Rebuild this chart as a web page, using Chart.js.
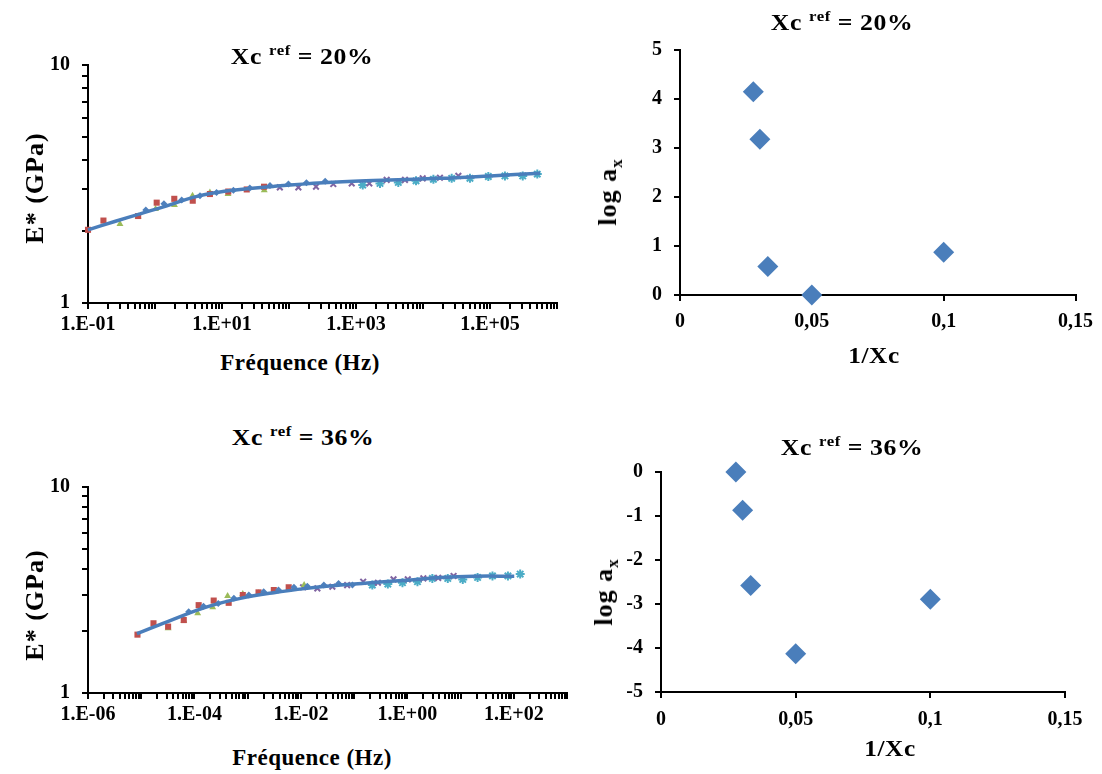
<!DOCTYPE html>
<html>
<head>
<meta charset="utf-8">
<script src="https://cdn.jsdelivr.net/npm/chart.js@4.4.0/dist/chart.umd.min.js"></script>
<style>
  body { margin: 0; background: #fff; width: 1102px; height: 774px; position: relative; overflow: hidden;
         font-family: "Liberation Serif", "Times New Roman", serif; font-weight: bold; color: #000; }
  canvas { position: absolute; }
  .lbl { position: absolute; white-space: nowrap; transform: translate(-50%, -50%); font-size: 23px; letter-spacing: 0.5px; line-height: 1; }
  .ttl { transform: translate(-50%, -50%) scaleX(1.12); }
  .rot { transform: translate(-50%, -50%) rotate(-90deg); font-size: 26px; letter-spacing: 1px; }
  .sm { transform: translate(-50%, -50%) scaleX(1.1); }
  sup { font-size: 15px; vertical-align: baseline; position: relative; top: -9px; }
  sub { font-size: 17px; vertical-align: baseline; position: relative; top: 6px; }
</style>
</head>
<body>

<canvas id="cA" width="570" height="299" style="left:0;top:41px"></canvas>
<canvas id="cB" width="522" height="334" style="left:580px;top:26px"></canvas>
<canvas id="cC" width="580" height="277" style="left:0;top:463px"></canvas>
<canvas id="cD" width="532" height="302" style="left:570px;top:448px"></canvas>

<div class="lbl ttl" style="left:302px;top:56px">Xc <sup>ref</sup> = 20%</div>
<div class="lbl ttl" style="left:842px;top:22px">Xc <sup>ref</sup> = 20%</div>
<div class="lbl ttl" style="left:303px;top:437px">Xc <sup>ref</sup> = 36%</div>
<div class="lbl ttl" style="left:852px;top:447px">Xc <sup>ref</sup> = 36%</div>

<div class="lbl rot" style="left:35px;top:188px">E* (GPa)</div>
<div class="lbl rot" style="left:35px;top:605px">E* (GPa)</div>
<div class="lbl" style="left:300px;top:362px">Fréquence (Hz)</div>
<div class="lbl" style="left:312px;top:757px">Fréquence (Hz)</div>

<div class="lbl rot" style="left:608px;top:192px">log a<sub>x</sub></div>
<div class="lbl rot" style="left:604px;top:592px">log a<sub>x</sub></div>
<div class="lbl sm" style="left:874px;top:355px">1/Xc</div>
<div class="lbl sm" style="left:890px;top:748px">1/Xc</div>

<script>
// -------------------------
// Données : Xc ref = 20 %
// -------------------------
const fitA_f = [0.1, 0.25, 0.6, 1.5, 3.7, 7.4, 18.6, 58, 325, 1810, 17900, 100000, 560000];
const fitA_E = [2.03, 2.20, 2.37, 2.56, 2.78, 2.90, 3.00, 3.09, 3.20, 3.27, 3.34, 3.42, 3.51];

const blueA_f = [0.73, 1.36, 2.5, 4.7, 8.3, 14.8, 26, 52, 98, 182, 347];
const blueA_E = [2.46, 2.61, 2.71, 2.82, 2.91, 2.98, 3.04, 3.12, 3.16, 3.20, 3.25];
const redA_f = [0.1, 0.17, 0.56, 1.06, 1.94, 3.66, 6.6, 12.4, 23.4, 42.4];
const redA_E = [2.03, 2.22, 2.32, 2.64, 2.74, 2.69, 2.87, 2.94, 3.00, 3.08];
const greenA_f = [0.30, 0.56, 1.02, 1.95, 3.63, 6.6, 12.3, 42.7];
const greenA_E = [2.15, 2.31, 2.48, 2.58, 2.82, 2.91, 2.87, 2.98];
const purpleA_f = [73, 138, 253, 458, 863, 1580, 2870, 5380, 9900, 17900, 33700];
const purpleA_E = [3.06, 3.06, 3.08, 3.16, 3.18, 3.18, 3.29, 3.29, 3.34, 3.36, 3.42];
const cyanA_f = [1260, 2280, 4280, 7870, 14300, 26800, 50200, 94400, 167000, 308000, 508000];
const cyanA_E = [3.13, 3.18, 3.21, 3.26, 3.31, 3.34, 3.34, 3.40, 3.42, 3.42, 3.48];

// -------------------------
// Données : Xc ref = 36 %
// -------------------------
const fitC_f = [8.3e-6, 4.0e-5, 1.72e-4, 7.3e-4, 3.1e-3, 1.31e-2, 5.6e-2, 0.236, 1.0, 4.26, 18, 102];
const fitC_E = [1.94, 2.28, 2.62, 2.88, 3.07, 3.22, 3.34, 3.44, 3.53, 3.64, 3.69, 3.69];

const blueC_f = [7.8e-5, 1.48e-4, 2.8e-4, 5.5e-4, 1.05e-3, 2.0e-3, 3.8e-3, 7.4e-3, 1.32e-2, 2.7e-2, 5.1e-2, 9.3e-2];
const blueC_E = [2.48, 2.64, 2.72, 2.88, 2.99, 3.10, 3.16, 3.26, 3.30, 3.34, 3.40, 3.34];
const redC_f = [8.5e-6, 1.7e-5, 3.2e-5, 6.3e-5, 1.2e-4, 2.3e-4, 4.4e-4, 8.1e-4, 1.6e-3, 3.1e-3, 5.9e-3];
const redC_E = [1.92, 2.18, 2.10, 2.26, 2.67, 2.81, 2.74, 2.99, 3.08, 3.16, 3.26];
const greenC_f = [3.2e-5, 6.3e-5, 1.15e-4, 2.2e-4, 4.2e-4, 8.1e-4, 1.6e-3, 5.9e-3, 1.15e-2];
const greenC_E = [2.06, 2.24, 2.44, 2.61, 2.96, 3.02, 3.05, 3.16, 3.34];
const purpleC_f = [1.1e-2, 2.04e-2, 3.9e-2, 7.4e-2, 0.148, 0.28, 0.55, 1.02, 2.0, 3.8, 7.4];
const purpleC_E = [3.26, 3.22, 3.28, 3.34, 3.47, 3.43, 3.56, 3.56, 3.60, 3.62, 3.70];
const cyanC_f = [0.22, 0.43, 0.81, 1.55, 2.95, 5.75, 11, 20.9, 39.8, 77.6, 132];
const cyanC_E = [3.34, 3.38, 3.43, 3.47, 3.60, 3.60, 3.56, 3.64, 3.70, 3.70, 3.78];

// facteurs de translation
const invXc = [0.0278, 0.0303, 0.0333, 0.05, 0.1];
const logA_20 = [4.15, 3.18, 0.58, 0, 0.87];
const logA_36 = [0, -0.87, -2.58, -4.13, -2.89];

// étiquettes des axes log
const freqLabelsA = [0.1, 10, 1000, 100000];
const freqLabelsC = [1e-6, 1e-4, 1e-2, 1, 100];
const modLabels = [1, 10];
// -------------------------

Chart.defaults.font.family = "'Liberation Serif', 'Times New Roman', serif";
Chart.defaults.font.weight = 'bold';
Chart.defaults.font.size = 20;
Chart.defaults.color = '#000';
Chart.defaults.animation = false;

const pts = (xs, ys) => xs.map((x, i) => ({ x: x, y: ys[i] }));

// 1.E-01, 1.E+03 ...
function expLabel(v) {
  const e = Math.round(Math.log10(v));
  return '1.E' + (e < 0 ? '-' : '+') + String(Math.abs(e)).padStart(2, '0');
}
function hasLabel(list, v) {
  return list.some(l => Math.abs(Math.log10(v / l)) < 1e-6);
}
// graduations 1..9 x 10^e
function logTicks(e0, e1) {
  const t = [];
  for (let e = e0; e < e1; e++) for (let m = 1; m < 10; m++) t.push({ value: m * Math.pow(10, e) });
  t.push({ value: Math.pow(10, e1) });
  return t;
}

const axisGrid = { display: true, drawOnChartArea: false, drawTicks: true, tickLength: 6, color: '#000', lineWidth: 2 };
const axisBorder = { display: true, color: '#000', width: 2 };

function markers(xs, ys, style, color, r) {
  return {
    data: pts(xs, ys), pointStyle: style, pointRadius: r, pointHoverRadius: r,
    backgroundColor: color, borderColor: color, borderWidth: style === 'crossRot' || style === 'star' ? 2 : 0,
    showLine: false, clip: false, order: 1
  };
}
function fitLine(xs, ys) {
  return {
    data: pts(xs, ys), showLine: true, borderColor: '#4a7ebb', borderWidth: 3.5,
    pointRadius: 0, tension: 0.4, clip: false, order: 0
  };
}

function masterCurve(id, datasets, xmin, xmax, e0, e1, labels, yw, xh) {
  new Chart(document.getElementById(id), {
    type: 'scatter',
    data: { datasets: datasets },
    options: {
      responsive: false,
      layout: { padding: { top: 24, right: 13, left: 0, bottom: 0 } },
      plugins: { legend: { display: false }, tooltip: { enabled: false } },
      scales: {
        x: {
          type: 'logarithmic', min: xmin, max: xmax,
          grid: axisGrid, border: axisBorder,
          afterBuildTicks: s => { s.ticks = logTicks(e0, e1); },
          afterFit: s => { s.height = xh; },
          ticks: { autoSkip: false, maxRotation: 0, padding: 4,
                   callback: v => hasLabel(labels, v) ? expLabel(v) : '' }
        },
        y: {
          type: 'logarithmic', min: 1, max: 10,
          grid: axisGrid, border: axisBorder,
          afterBuildTicks: s => { s.ticks = logTicks(0, 1); },
          afterFit: s => { s.width = yw; },
          ticks: { autoSkip: false, padding: 12,
                   callback: v => hasLabel(modLabels, v) ? String(Math.round(v)) : '' }
        }
      }
    }
  });
}

function shiftPlot(id, ys, ymin, ymax, right, yw, xh, xpad) {
  new Chart(document.getElementById(id), {
    type: 'scatter',
    data: { datasets: [{
      data: pts(invXc, ys), pointStyle: 'rectRot', pointRadius: 10.5, pointHoverRadius: 10.5,
      backgroundColor: '#4a7ebb', borderColor: '#4a7ebb', borderWidth: 0, clip: false
    }] },
    options: {
      responsive: false,
      layout: { padding: { top: 24, right: right, left: 0, bottom: 0 } },
      plugins: { legend: { display: false }, tooltip: { enabled: false } },
      scales: {
        x: {
          type: 'linear', min: 0, max: 0.15,
          grid: axisGrid, border: axisBorder,
          afterFit: s => { s.height = xh; },
          ticks: { stepSize: 0.05, maxRotation: 0, padding: xpad,
                   callback: v => String(+v.toFixed(2)).replace('.', ',') }
        },
        y: {
          type: 'linear', min: ymin, max: ymax,
          grid: axisGrid, border: axisBorder,
          afterFit: s => { s.width = yw; },
          ticks: { stepSize: 1, padding: 12 }
        }
      }
    }
  });
}

masterCurve('cA', [
  fitLine(fitA_f, fitA_E),
  markers(blueA_f, blueA_E, 'rectRot', '#4f81bd', 3.5),
  markers(redA_f, redA_E, 'rect', '#c0504d', 4.3),
  markers(greenA_f, greenA_E, 'triangle', '#9bbb59', 4),
  markers(purpleA_f, purpleA_E, 'crossRot', '#8064a2', 4),
  markers(cyanA_f, cyanA_E, 'star', '#4bacc6', 4.5)
], 0.1, 1e6, -1, 6, freqLabelsA, 88, 37);

masterCurve('cC', [
  fitLine(fitC_f, fitC_E),
  markers(blueC_f, blueC_E, 'rectRot', '#4f81bd', 3.5),
  markers(redC_f, redC_E, 'rect', '#c0504d', 4.3),
  markers(greenC_f, greenC_E, 'triangle', '#9bbb59', 4),
  markers(purpleC_f, purpleC_E, 'crossRot', '#8064a2', 4),
  markers(cyanC_f, cyanC_E, 'star', '#4bacc6', 4.5)
], 1e-6, 1e3, -6, 3, freqLabelsC, 88, 47);

shiftPlot('cB', logA_20, 0, 5, 25, 100, 65, 9);
shiftPlot('cD', logA_36, -5, 0, 37, 91, 58, 10);
</script>
</body>
</html>
